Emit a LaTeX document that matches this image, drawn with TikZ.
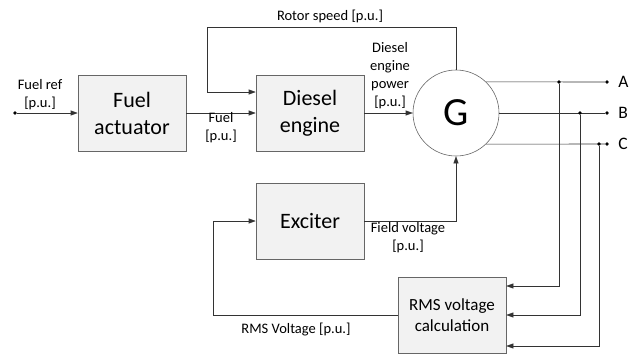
\documentclass[tikz,border=0pt]{standalone}
\usepackage{fontspec}
\setmainfont{Carlito}
\usepackage{tikz}
\usetikzlibrary{arrows.meta}
\tikzset{
  block/.style={draw=black!60, fill=black!5, minimum width=108pt, minimum height=76pt,
    align=center, inner sep=2pt, font=\fontsize{22}{27}\selectfont},
  lbl/.style={align=center, inner sep=0pt, font=\fontsize{14.5}{18}\selectfont},
  arr/.style={draw=black!80, -{Triangle[length=7pt,width=5pt]}},
  wire/.style={draw=black!80},
  dot/.style={circle, fill=black, inner sep=0pt, minimum size=3.6pt},
}

\begin{document}
\begin{tikzpicture}[x=1pt, y=-1pt, line width=0.6pt]
\useasboundingbox (0,0) rectangle (641,354);
% blocks
\node[block] (fuelact) at (132,113) {Fuel\\actuator};
\node[block] (diesel) at (310,113) {Diesel\\engine};
\node[block] (exciter) at (310,221) {Exciter};
\node[block, font=\fontsize{17}{21}\selectfont] (rmscalc) at (452,315) {RMS voltage\\calculation};
\node[circle, draw=black!60, fill=white, minimum size=86pt, inner sep=0pt,
  font=\fontsize{40}{48}\selectfont] (gen) at (456,113) {G};
% input
\node[dot] (fref) at (15,113) {};
\draw[arr] (fref) -- (fuelact.west);
\draw[arr] (fuelact.east) -- (diesel.west);
\draw[arr] (diesel.east) -- (gen.west);
% rotor speed feedback
\coordinate (rs) at (207,27);
\draw[arr] (gen.north) |- (rs) |- ([yshift=21pt]diesel.west);
% field voltage
\draw[arr] (exciter.east) -| (gen.south);
% rms feedback
\coordinate (fb) at (213,315);
\draw[arr] (rmscalc.west) -- (fb) |- (exciter.west);
% terminals
\node[dot] (ta) at (607,82) {};
\node[dot] (tb) at (607,113) {};
\node[dot] (tc) at (607,144) {};
\draw[wire] (gen.46) -- (ta);
\draw[wire] (gen.east) -- (tb);
\draw[wire] (gen.-46) -- (tc);
\foreach \t/\n in {ta/A, tb/B, tc/C}
  \node[anchor=west, inner sep=0pt, font=\fontsize{17.5}{21}\selectfont] at ([xshift=11pt]\t.center) {\n};
% measurement taps
\node[dot] (ja) at (559,82) {};
\node[dot] (jb) at (580,113) {};
\node[dot] (jc) at (599,144) {};
\draw[arr] (ja) |- ([yshift=29pt]rmscalc.east);
\draw[arr] (jb) |- (rmscalc.east);
\draw[arr] (jc) |- ([yshift=-31pt]rmscalc.east);
% labels
\node[lbl] (lfref) at (40,95) {Fuel ref\\{[p.u.]}};
\node[lbl] (lfuel) at (221,128) {Fuel\\{[p.u.]}};
\node[lbl] (lrs) at (330,16) {Rotor speed [p.u.]};
\node[lbl] (lpow) at (390,76) {Diesel\\engine\\power\\{[p.u.]}};
\node[lbl] (lfv) at (408,238) {Field voltage\\{[p.u.]}};
\node[lbl] (lrms) at (296,330) {RMS Voltage [p.u.]};
\end{tikzpicture}
\end{document}
